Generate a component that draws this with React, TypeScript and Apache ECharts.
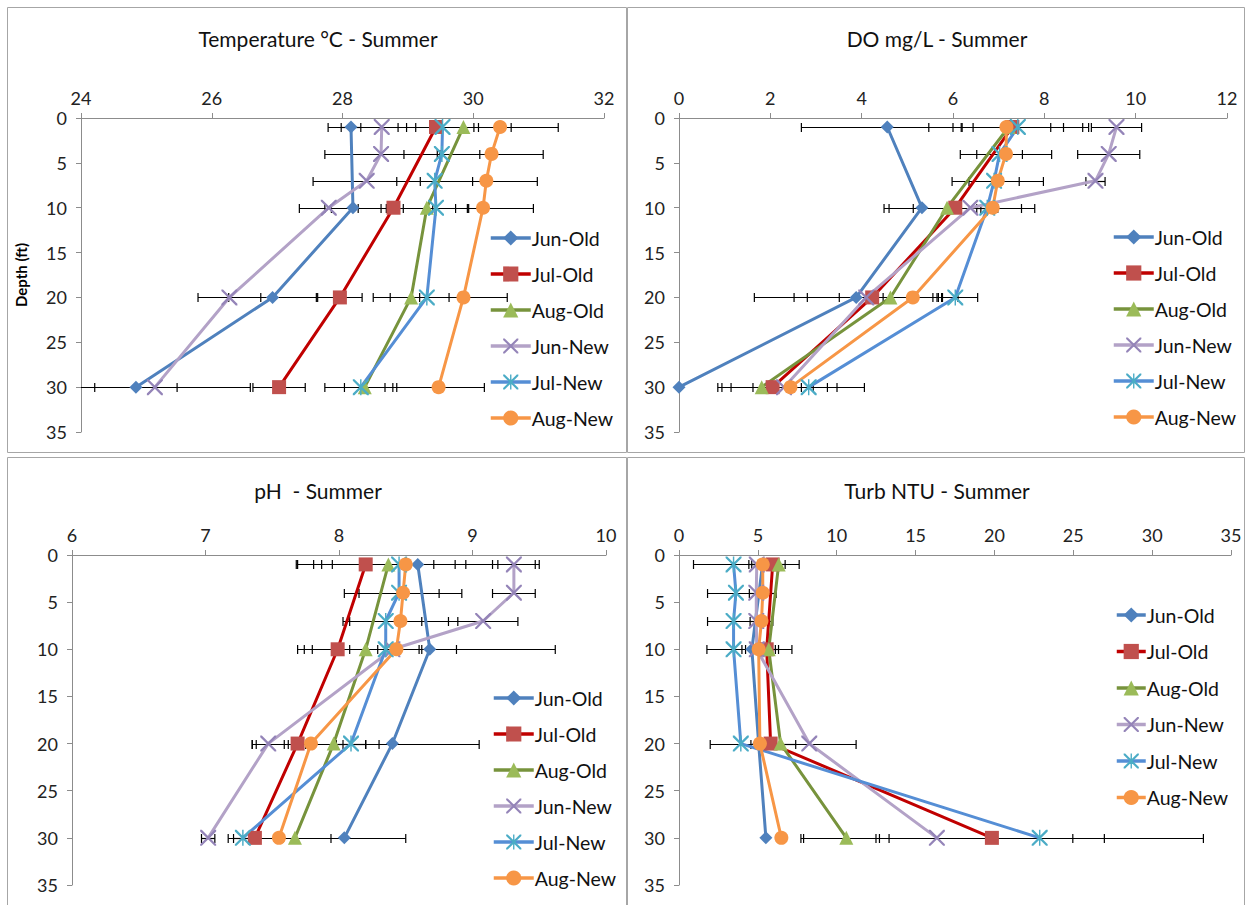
import React, { useEffect, useRef } from "react";
import * as echarts from "echarts";

// ---------- data ----------
const seriesNames = ["Jun-Old", "Jul-Old", "Aug-Old", "Jun-New", "Jul-New", "Aug-New"];
const oldDepths = [1, 10, 20, 30];
const newDepths = [1, 4, 7, 10, 20, 30];

// Temperature °C
const tempJunOld = [28.13, 28.16, 26.93, 24.84];
const tempJulOld = [29.43, 28.78, 27.96, 27.03];
const tempAugOld = [29.85, 29.29, 29.05, 28.34];
const tempJunNew = [28.6, 28.59, 28.37, 27.79, 26.27, 25.13];
const tempJulNew = [29.53, 29.52, 29.41, 29.43, 29.29, 28.28];
const tempAugNew = [30.41, 30.28, 30.2, 30.15, 29.85, 29.47];
const tempErrJunOld = [0.15, 0.43, 0.67, 0.63];
const tempErrJulOld = [0.58, 0.95, 0.34, 0.4];
const tempErrAugOld = [0.73, 0.62, 0.58, 0.31];
const tempErrJunNew = [0.82, 0.86, 0.82, 0.45, 0.48, 1.46];
const tempErrJulNew = [0.55, 0.58, 0.58, 0.5, 0.56, 0.55];
const tempErrAugNew = [0.89, 0.79, 0.78, 0.77, 0.67, 0.7];

// DO mg/L
const doJunOld = [4.56, 5.32, 3.88, 0.0];
const doJulOld = [7.3, 6.05, 4.23, 2.05];
const doAugOld = [7.22, 5.87, 4.63, 1.81];
const doJunNew = [9.58, 9.41, 9.12, 6.38, 4.1, 2.3];
const doJulNew = [7.42, 7.02, 6.9, 6.75, 6.05, 2.84];
const doAugNew = [7.17, 7.16, 6.98, 6.87, 5.12, 2.44];
const doErrJunOld = [1.88, 0.83, 2.23, null];
const doErrJulOld = [1.12, 1.45, 1.42, 1.2];
const doErrAugOld = [1.75, 0.74, 1.12, 0.87];
const doErrJunNew = [0.55, 0.68, 0.21, 0.4, 1.58, 1.16];
const doErrJulNew = [1.42, 0.5, 0.55, 0.23, 0.49, 1.22];
const doErrAugNew = [0.97, 1.0, 1.0, 0.92, 0.65, 0.5];

// pH
const phJunOld = [8.59, 8.68, 8.4, 8.04];
const phJulOld = [8.2, 7.99, 7.69, 7.37];
const phAugOld = [8.37, 8.2, 7.96, 7.67];
const phJunNew = [9.31, 9.31, 9.08, 8.4, 7.47, 7.02];
const phJulNew = [8.45, 8.45, 8.35, 8.35, 8.09, 7.28];
const phAugNew = [8.5, 8.48, 8.46, 8.43, 7.79, 7.55];
const phErrJunOld = [0.91, 0.94, 0.65, 0.46];
const phErrJulOld = [0.51, 0.3, 0.34, 0.2];
const phErrAugOld = [0.5, 0.4, 0.34, 0.27];
const phErrJunNew = [0.16, 0.16, 0.26, null, 0.12, 0.05];
const phErrJulNew = [0.5, 0.3, 0.27, 0.27, 0.11, 0.07];
const phErrAugNew = [0.69, 0.44, 0.43, 0.45, 0.41, null];

// Turbidity NTU
const turbJunOld = [5.3, 4.62, 5.05, 5.51];
const turbJulOld = [5.94, 5.56, 5.81, 19.84];
const turbAugOld = [6.32, 5.69, 6.44, 10.61];
const turbJunNew = [4.93, 4.9, 4.9, 4.93, 8.26, 16.35];
const turbJulNew = [3.46, 3.61, 3.46, 3.46, 3.92, 22.87];
const turbAugNew = [5.31, 5.31, 5.23, 5.05, 5.13, 6.49];
const turbErrJunOld = [null, null, null, null];
const turbErrJulOld = [0.79, 0.75, null, 7.13];
const turbErrAugOld = [1.3, 1.47, 0.96, 2.71];
const turbErrJunNew = [0.5, null, null, null, 2.97, 8.62];
const turbErrJulNew = [2.54, 1.8, 1.65, 1.69, 1.94, 10.38];
const turbErrAugNew = [0.7, 0.85, 0.72, 1.06, 0.57, null];

const panelTitles = ["Temperature °C - Summer", "DO mg/L - Summer", "pH  - Summer", "Turb NTU - Summer"];
const xMins = [24, 0, 6, 0];
const xMaxs = [32, 12, 10, 35];
const xIntervals = [2, 2, 1, 5];

// ---------- styles ----------
const FONT = "Lato, 'Open Sans', sans-serif";
const X_PATH = "path://M0,0 L1,0 L10,9 L10,10 L9,10 L0,1 Z M10,0 L10,1 L1,10 L0,10 L0,9 L9,0 Z";
const AST_PATH =
  "path://M0,0 L1,0 L10,9 L10,10 L9,10 L0,1 Z M10,0 L10,1 L1,10 L0,10 L0,9 L9,0 Z M4.55,0 L5.45,0 L5.45,10 L4.55,10 Z";

const styles = [
  { line: "#4F81BD", mark: "#4F81BD", symbol: "diamond", size: 13 },
  { line: "#C00000", mark: "#C0504D", symbol: "rect", size: 14 },
  { line: "#77933C", mark: "#9BBB59", symbol: "triangle", size: 14 },
  { line: "#B3A2C7", mark: "#9484B8", symbol: X_PATH, size: 16 },
  { line: "#558ED5", mark: "#4BACC6", symbol: AST_PATH, size: 16 },
  { line: "#F79646", mark: "#F79646", symbol: "circle", size: 14 },
];

const panels = [
  {
    vals: [tempJunOld, tempJulOld, tempAugOld, tempJunNew, tempJulNew, tempAugNew],
    errs: [tempErrJunOld, tempErrJulOld, tempErrAugOld, tempErrJunNew, tempErrJulNew, tempErrAugNew],
  },
  {
    vals: [doJunOld, doJulOld, doAugOld, doJunNew, doJulNew, doAugNew],
    errs: [doErrJunOld, doErrJulOld, doErrAugOld, doErrJunNew, doErrJulNew, doErrAugNew],
  },
  {
    vals: [phJunOld, phJulOld, phAugOld, phJunNew, phJulNew, phAugNew],
    errs: [phErrJunOld, phErrJulOld, phErrAugOld, phErrJunNew, phErrJulNew, phErrAugNew],
  },
  {
    vals: [turbJunOld, turbJulOld, turbAugOld, turbJunNew, turbJulNew, turbAugNew],
    errs: [turbErrJunOld, turbErrJulOld, turbErrAugOld, turbErrJunNew, turbErrJulNew, turbErrAugNew],
  },
];

const grids = [
  { left: 81, top: 118, width: 523, height: 314 },
  { left: 679, top: 118, width: 548, height: 314 },
  { left: 72, top: 555, width: 534, height: 330 },
  { left: 679, top: 555, width: 552, height: 330 },
];
const titlePos = [
  [318, 38],
  [937, 38],
  [318, 490],
  [937, 490],
];
const legendPos = [
  { left: 489, top: 228, itemWidth: 40, itemGap: 16 },
  { left: 1112, top: 227, itemWidth: 40, itemGap: 16 },
  { left: 492, top: 688, itemWidth: 40, itemGap: 16 },
  { left: 1115, top: 605, itemWidth: 29, itemGap: 16.5 },
];
const borders = [
  { x: 7.5, y: 7.5, width: 619, height: 445 },
  { x: 627.5, y: 7.5, width: 617, height: 445 },
  { x: 7.5, y: 457.5, width: 619, height: 460 },
  { x: 627.5, y: 457.5, width: 617, height: 460 },
];

function buildOption() {
  const series: any[] = [];
  panels.forEach((p, pi) => {
    const errData: any[] = [];
    p.vals.forEach((vals, si) => {
      const depths = si < 3 ? oldDepths : newDepths;
      const st = styles[si];
      series.push({
        type: "line",
        name: seriesNames[si],
        xAxisIndex: pi,
        yAxisIndex: pi,
        data: vals.map((v, i) => [v, depths[i]]),
        symbol: st.symbol,
        symbolSize: st.size,
        showAllSymbol: true,
        lineStyle: { color: st.line, width: 3 },
        itemStyle: { color: st.mark },
        emphasis: { disabled: true },
        z: 3,
      });
      p.errs[si].forEach((e, i) => {
        if (e == null) return;
        errData.push([vals[i] - e, vals[i] + e, depths[i]]);
      });
    });
    series.push({
      type: "custom",
      name: "err" + pi,
      xAxisIndex: pi,
      yAxisIndex: pi,
      data: errData,
      encode: { x: [0, 1], y: 2 },
      clip: true,
      z: 2,
      renderItem: (params: any, api: any) => {
        const cs = params.coordSys;
        const lo = api.coord([api.value(0), api.value(2)]);
        const hi = api.coord([api.value(1), api.value(2)]);
        const x0 = Math.max(lo[0], cs.x);
        const x1 = Math.min(hi[0], cs.x + cs.width);
        const y = Math.round(lo[1]) + 0.5;
        const h = 4.5;
        const ls = { stroke: "#000", lineWidth: 1.2 };
        const children: any[] = [
          { type: "line", shape: { x1: x0, y1: y, x2: x1, y2: y }, style: ls },
        ];
        if (lo[0] >= cs.x)
          children.push({ type: "line", shape: { x1: x0, y1: y - h, x2: x0, y2: y + h }, style: ls });
        if (hi[0] <= cs.x + cs.width)
          children.push({ type: "line", shape: { x1: x1, y1: y - h, x2: x1, y2: y + h }, style: ls });
        return { type: "group", children };
      },
    });
  });

  const xAxis = panels.map((_, pi) => ({
    type: "value",
    gridIndex: pi,
    position: "top",
    min: xMins[pi],
    max: xMaxs[pi],
    interval: xIntervals[pi],
    axisLine: { show: true, lineStyle: { color: "#8c8c8c", width: 1 } },
    axisTick: { show: true, length: 5, lineStyle: { color: "#8c8c8c" } },
    splitLine: { show: false },
    axisLabel: { color: "#222", fontSize: 18, fontFamily: FONT, margin: 11 },
  }));
  const yAxis = panels.map((_, pi) => ({
    type: "value",
    gridIndex: pi,
    inverse: true,
    min: 0,
    max: 35,
    interval: 5,
    name: pi === 0 ? "Depth (ft)" : "",
    nameLocation: "middle",
    nameGap: 53,
    nameRotate: 90,
    nameTextStyle: { fontSize: 15, fontWeight: "bold", color: "#000", fontFamily: FONT },
    axisLine: { show: true, onZero: false, lineStyle: { color: "#8c8c8c", width: 1 } },
    axisTick: { show: true, length: 5, lineStyle: { color: "#8c8c8c" } },
    splitLine: { show: false },
    axisLabel: { color: "#222", fontSize: 18, fontFamily: FONT, margin: 14 },
  }));

  const legend = legendPos.map((lp) => ({
    orient: "vertical",
    left: lp.left,
    top: lp.top,
    padding: 0,
    itemWidth: lp.itemWidth,
    itemHeight: 19,
    itemGap: lp.itemGap,
    data: seriesNames,
    selectedMode: false,
    lineStyle: { width: 3.5 },
    textStyle: { fontSize: 19.5, lineHeight: 20, color: "#111", fontFamily: FONT, padding: [0, 0, 0, -4] },
  }));

  const graphic: any[] = [];
  borders.forEach((b) =>
    graphic.push({
      type: "rect",
      shape: b,
      style: { fill: "none", stroke: "#a6a6a6", lineWidth: 1 },
      silent: true,
      z: -1,
    })
  );
  panelTitles.forEach((t, i) =>
    graphic.push({
      type: "text",
      x: titlePos[i][0],
      y: titlePos[i][1],
      style: {
        text: t,
        fontSize: 21,
        fontFamily: FONT,
        fill: "#111",
        textAlign: "center",
        textVerticalAlign: "middle",
      },
    })
  );

  return {
    animation: false,
    backgroundColor: "#ffffff",
    grid: grids,
    xAxis,
    yAxis,
    legend,
    series,
    graphic,
  };
}

export default function App() {
  const ref = useRef<HTMLDivElement>(null);
  useEffect(() => {
    if (!ref.current) return;
    const chart = echarts.init(ref.current, undefined, { renderer: "svg" });
    chart.setOption(buildOption() as any);
    return () => chart.dispose();
  }, []);
  return (
    <div
      ref={ref}
      style={{ position: "absolute", left: 0, top: 0, width: 1250, height: 905, background: "#fff" }}
    />
  );
}
